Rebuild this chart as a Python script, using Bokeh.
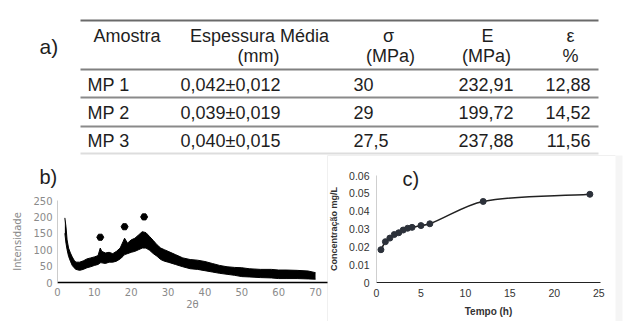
from bokeh.plotting import figure
from bokeh.models import Range1d, FixedTicker, CustomJSTickFormatter, LinearAxis
from bokeh.core.properties import value
from bokeh.embed import file_html
from bokeh.resources import INLINE

# ---------------- table (a) ----------------
head_top = ["Amostra", "Espessura Média", "σ", "E", "ε"]
head_bottom = ["", "(mm)", "(MPa)", "(MPa)", "%"]
samples = ["MP 1", "MP 2", "MP 3"]
thickness = ["0,042±0,012", "0,039±0,019", "0,040±0,015"]
sigma = ["30", "29", "27,5"]
modulus = ["232,91", "199,72", "237,88"]
strain = ["12,88", "14,52", "11,56"]

# ---------------- XRD (b) ----------------
xrd_2theta = [2.0, 2.3, 2.6, 3.0, 3.5, 4.0, 4.5, 5, 6, 7, 8, 9, 10, 11, 11.6, 12, 13, 14, 15, 16, 17,
              17.8, 18.2, 19, 20, 21, 22, 23, 24, 25, 26, 27, 28, 29, 30, 32, 34, 36, 38, 40,
              42, 44, 46, 48, 50, 52, 55, 58, 60, 62, 65, 68, 70]
xrd_upper = [197, 170, 130, 105, 90, 78, 68, 62, 62, 66, 72, 75, 78, 82, 105, 95, 90, 92, 88, 95, 105,
             125, 135, 120, 130, 135, 145, 155, 152, 140, 128, 115, 105, 100, 95, 85, 75, 70, 68, 64,
             58, 52, 48, 46, 45, 42, 40, 40, 38, 38, 37, 35, 30]
xrd_lower = [150, 120, 100, 80, 65, 52, 45, 40, 37, 40, 45, 48, 52, 55, 60, 60, 58, 62, 62, 65, 72,
             80, 85, 88, 92, 95, 100, 105, 105, 98, 88, 80, 70, 65, 62, 55, 48, 42, 40, 36,
             32, 28, 25, 22, 18, 17, 15, 14, 12, 12, 12, 11, 10]
peak_2theta = [11.6, 18.2, 23.5]
peak_mark = [138, 170, 200]
xrd_xticks = [0, 10, 20, 30, 40, 50, 60, 70]
xrd_yticks = [0, 50, 100, 150, 200, 250]

# ---------------- release (c) ----------------
time_h = [0.5, 1, 1.5, 2, 2.5, 3, 3.5, 4, 5, 6, 12, 24]
conc = [0.0185, 0.023, 0.025, 0.027, 0.028, 0.0295, 0.0305, 0.031, 0.032, 0.033, 0.0455, 0.0495]
rel_xticks = [0, 5, 10, 15, 20, 25]
rel_yticks = [0, 0.01, 0.02, 0.03, 0.04, 0.05, 0.06]

SANS = value("Liberation Sans")
W, H = 625, 321

# one canvas; page-pixel ranges for the table, extra ranges for the two charts
p = figure(width=W, height=H, x_range=Range1d(0, W), y_range=Range1d(H, 0),
           toolbar_location=None, output_backend="svg", min_border=0,
           x_axis_location=None, y_axis_location=None, outline_line_color=None)
p.title.visible = False
p.grid.visible = False

# chart (b) placement: 2theta=0 at px 57, 3.686 px/deg; I=0 at py 282, 0.328 px/unit
bx0, bkx = 57.0, 3.686
by0, bky = 282.0, 0.328
p.extra_x_ranges["bx"] = Range1d(-bx0 / bkx, (W - bx0) / bkx)
p.extra_y_ranges["by"] = Range1d((by0 - H) / bky, by0 / bky)
# chart (c) placement: t=0 at px 376, 8.89 px/h; C=0 at py 282.3, 1788 px/unit
cx0, ckx = 376.0, 8.89
cy0, cky = 282.3, 1788.0
p.extra_x_ranges["cx"] = Range1d(-cx0 / ckx, (W - cx0) / ckx)
p.extra_y_ranges["cy"] = Range1d((cy0 - H) / cky, cy0 / cky)

# ---- panel (c) faint frame ----
p.quad(left=[615], right=[622], top=[155], bottom=[321], fill_color="#f5f5f5", line_color=None)
p.segment(x0=[327, 327], y0=[155, 155], x1=[327, 615], y1=[321, 155], line_color="#f0f0f0", line_width=1)

# ======== table ========
p.segment(x0=80, x1=598, y0=[20, 69, 97, 126, 153], y1=[20, 69, 97, 126, 153],
          line_color=["#6a6a6a", "#808080", "#8a8a8a", "#8a8a8a", "#dddddd"], line_width=2)
hx = [126.5, 259, 388, 487, 570]
hx2 = [126.5, 258, 390, 486, 570]
p.text(x=hx, y=[35] * 5, text=head_top, text_font=SANS, text_font_size="18px",
       text_color="#1e1e1e", text_baseline="middle", text_align="center")
p.text(x=hx2, y=[55] * 5, text=head_bottom, text_font=SANS, text_font_size="18px",
       text_color="#1e1e1e", text_baseline="middle", text_align="center")
ry = [84, 112, 140]
for xs, col, al in [(87, samples, "left"), (180, thickness, "left"), (353, sigma, "left"),
                    (513, modulus, "right"), (590, strain, "right")]:
    p.text(x=[xs] * 3, y=ry, text=col, text_font=SANS, text_font_size="18px",
           text_color="#1e1e1e", text_baseline="middle", text_align=al)

# panel letters
p.text(x=[39, 39, 402], y=[46, 176, 178], text=["a)", "b)", "c)"], text_font=SANS,
       text_font_size=["21px", "20px", "20px"], text_color="#1e1e1e",
       text_baseline="middle", text_align="left")

# ======== (b) XRD ========
p.varea(x=xrd_2theta, y1=xrd_lower, y2=xrd_upper, fill_color="black",
        x_range_name="bx", y_range_name="by")
p.line(x=xrd_2theta, y=xrd_upper, line_color="black", line_width=1,
       x_range_name="bx", y_range_name="by")
p.line(x=xrd_2theta, y=xrd_lower, line_color="black", line_width=1,
       x_range_name="bx", y_range_name="by")
p.scatter(x=peak_2theta, y=peak_mark, marker="hex", size=7, color="black",
          x_range_name="bx", y_range_name="by")

bxa = LinearAxis(x_range_name="bx", y_range_name="by", fixed_location=0, bounds=(0, 73.2),
                 ticker=FixedTicker(ticks=xrd_xticks), axis_label="2θ")
bya = LinearAxis(x_range_name="bx", y_range_name="by", fixed_location=0, bounds=(0, 250),
                 ticker=FixedTicker(ticks=xrd_yticks), axis_label="Intensidade")
for ax in (bxa, bya):
    ax.major_tick_line_color = None
    ax.minor_tick_line_color = None
    ax.major_tick_out = 0
    ax.major_tick_in = 0
    ax.minor_tick_out = 0
    ax.major_label_text_font = "DejaVu Sans"
    ax.major_label_text_font_size = "10px"
    ax.major_label_text_color = "#8a8a8a"
    ax.axis_label_text_font = "DejaVu Sans"
    ax.axis_label_text_font_size = "10px"
    ax.axis_label_text_font_style = "normal"
    ax.axis_label_text_color = "#8a8a8a"
bxa.axis_line_color = "black"
bxa.axis_line_width = 1.5
bya.axis_line_color = "#cccccc"
bxa.major_label_standoff = 5
bxa.axis_label_standoff = 0
bya.major_label_standoff = 5
bya.axis_label_standoff = 7
p.add_layout(bxa, "below")
p.add_layout(bya, "left")

# ======== (c) release ========
n = len(time_h)
slopes = []
for i in range(n):
    if i == 0:
        slopes.append((conc[1] - conc[0]) / (time_h[1] - time_h[0]))
    elif i == n - 1:
        slopes.append((conc[-1] - conc[-2]) / (time_h[-1] - time_h[-2]))
    else:
        slopes.append((conc[i + 1] - conc[i - 1]) / (time_h[i + 1] - time_h[i - 1]))
sx0, sy0, sx1, sy1, k0x, k0y, k1x, k1y = [], [], [], [], [], [], [], []
for i in range(n - 1):
    h = time_h[i + 1] - time_h[i]
    sx0.append(time_h[i]); sy0.append(conc[i])
    sx1.append(time_h[i + 1]); sy1.append(conc[i + 1])
    k0x.append(time_h[i] + h / 3); k0y.append(conc[i] + slopes[i] * h / 3)
    k1x.append(time_h[i + 1] - h / 3); k1y.append(conc[i + 1] - slopes[i + 1] * h / 3)
p.bezier(x0=sx0, y0=sy0, x1=sx1, y1=sy1, cx0=k0x, cy0=k0y, cx1=k1x, cy1=k1y,
         line_color="#222222", line_width=1.6, x_range_name="cx", y_range_name="cy")
p.scatter(x=time_h, y=conc, size=6, color="#2c313a", x_range_name="cx", y_range_name="cy")

cxa = LinearAxis(x_range_name="cx", y_range_name="cy", fixed_location=0, bounds=(0, 25.2),
                 ticker=FixedTicker(ticks=rel_xticks), axis_label="Tempo (h)")
cya = LinearAxis(x_range_name="cx", y_range_name="cy", fixed_location=0, bounds=(0, 0.06),
                 ticker=FixedTicker(ticks=rel_yticks), axis_label="Concentração mg/L",
                 formatter=CustomJSTickFormatter(code="return tick == 0 ? '0' : tick.toFixed(2);"))
for ax in (cxa, cya):
    ax.major_tick_line_color = None
    ax.minor_tick_line_color = None
    ax.major_tick_out = 0
    ax.major_tick_in = 0
    ax.minor_tick_out = 0
    ax.major_label_text_font = "Liberation Sans"
    ax.major_label_text_font_size = "10.5px"
    ax.major_label_text_color = "#333333"
    ax.axis_label_text_font = "Liberation Sans"
    ax.axis_label_text_font_style = "bold"
    ax.axis_label_text_color = "#333333"
cxa.axis_label_text_font_size = "10px"
cya.axis_label_text_font_size = "9px"
cxa.axis_line_color = "#222222"
cxa.axis_line_width = 1.2
cya.axis_line_color = "#cfcfcf"
cxa.major_label_standoff = 6
cxa.axis_label_standoff = 6
cya.major_label_standoff = 7
cya.axis_label_standoff = 7
p.add_layout(cxa, "below")
p.add_layout(cya, "left")

open("out.html", "w").write(file_html(p, INLINE))
